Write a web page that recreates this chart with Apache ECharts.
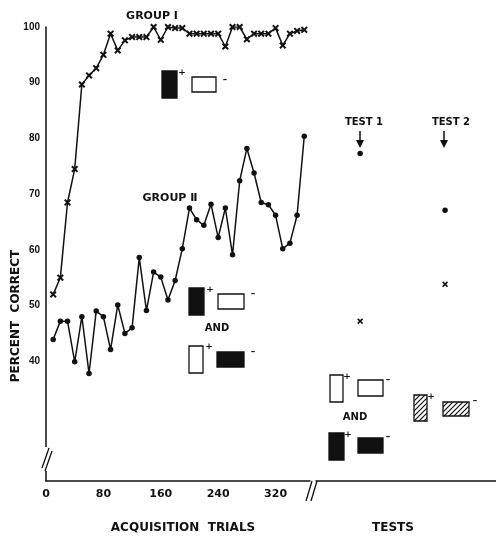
<!DOCTYPE html>
<html><head><meta charset="utf-8">
<script src="https://cdn.jsdelivr.net/npm/echarts@6/dist/echarts.min.js"></script>
<style>html,body{margin:0;padding:0;background:#fff}#c{width:496px;height:539px}</style>
</head><body><div id="c"></div>
<script>
// ---- data ----
const trials = [10,20,30,40,50,60,70,80,90,100,110,120,130,140,150,160,170,180,190,200,210,220,230,240,250,260,270,280,290,300,310,320,330,340,350,360];
const groupI = [52,55,68.5,74.5,89.7,91.3,92.6,95,98.8,95.8,97.6,98.2,98.2,98.2,100,97.7,100,99.8,99.8,98.8,98.8,98.8,98.8,98.8,96.5,100,100,97.8,98.8,98.8,98.8,99.8,96.7,98.8,99.3,99.5];
const groupII = [43.9,47.2,47.2,39.9,48.0,37.8,49.0,48.0,42.1,50.1,45.0,46.0,58.6,49.1,56.0,55.1,51.0,54.5,60.2,67.5,65.4,64.4,68.2,62.2,67.5,59.1,72.4,78.2,73.8,68.5,68.1,66.2,60.2,61.2,66.2,80.4];
const testNumbers = [1, 2];
const testGroupI = [47.2, 53.8];
const testGroupII = [77.3, 67.1];
const xTickLabels = [0, 80, 160, 240, 320];
const yTickLabels = [40, 50, 60, 70, 80, 90, 100];

const FONT = 'DejaVu Sans';
const INK = '#111';
const xSym = 'path://M2,0 L5,3 L8,0 L10,2 L7,5 L10,8 L8,10 L5,7 L2,10 L0,8 L3,5 L0,2 Z';

// hatch pattern
const hc = document.createElement('canvas');
hc.width = 5; hc.height = 5;
const hx = hc.getContext('2d');
hx.fillStyle = '#fff'; hx.fillRect(0,0,5,5);
hx.strokeStyle = INK; hx.lineWidth = 1.2;
hx.beginPath(); hx.moveTo(-1,6); hx.lineTo(6,-1); hx.moveTo(-1,1); hx.lineTo(1,-1); hx.moveTo(4,6); hx.lineTo(6,4); hx.stroke();
const hatch = {image: hc, repeat: 'repeat'};

function box(x, y, w, h, kind) {
  return {type:'rect', shape:{x:x, y:y, width:w, height:h}, z:100,
    style:{fill: kind === 'black' ? INK : (kind === 'hatch' ? hatch : '#fff'), stroke: INK, lineWidth: 1.3}};
}
function txt(x, y, s, size, extra) {
  return Object.assign({type:'text', x:x, y:y, z:100,
    style:{text:s, font:'bold ' + size + 'px "' + FONT + '"', fill: INK, align:'center', verticalAlign:'middle'}}, extra || {});
}
function ln(x1, y1, x2, y2, w) {
  return {type:'line', z:110, shape:{x1:x1, y1:y1, x2:x2, y2:y2}, style:{stroke: INK, lineWidth: w || 1.3}};
}

const chart = echarts.init(document.getElementById('c'));
const yCommon = {type:'value', min:18.5, max:100, splitLine:{show:false}, axisTick:{show:false}};
chart.setOption({
  backgroundColor:'#fff',
  animation:false,
  grid:[
    {left:46, top:27, width:264, height:463},
    {left:316, top:27, width:180, height:463}
  ],
  xAxis:[
    {gridIndex:0, type:'value', min:0, max:368, splitLine:{show:false},
     axisLine:{lineStyle:{color:INK, width:1.5}}, axisTick:{show:false},
     axisLabel:{customValues:xTickLabels, color:INK, fontFamily:FONT, fontWeight:'bold', fontSize:11, margin:8},
     name:'ACQUISITION  TRIALS', nameLocation:'middle', nameGap:41,
     nameTextStyle:{color:INK, fontFamily:FONT, fontWeight:'bold', fontSize:12, padding:[0,0,0,10]}},
    {gridIndex:1, type:'value', min:0.48, max:2.6, splitLine:{show:false},
     axisLine:{lineStyle:{color:INK, width:1.5}}, axisTick:{show:false}, axisLabel:{show:false},
     name:'TESTS', nameLocation:'middle', nameGap:41,
     nameTextStyle:{color:INK, fontFamily:FONT, fontWeight:'bold', fontSize:12, padding:[0,26,0,0]}}
  ],
  yAxis:[
    Object.assign({gridIndex:0, axisLine:{show:true, lineStyle:{color:INK, width:1.5}},
      axisLabel:{customValues:yTickLabels, color:INK, fontFamily:'Liberation Sans', fontWeight:'bold', fontSize:10, margin:6}}, yCommon),
    Object.assign({gridIndex:1, axisLine:{show:false}, axisLabel:{show:false}}, yCommon)
  ],
  series:[
    {name:'Group I', type:'line', xAxisIndex:0, yAxisIndex:0,
     data: trials.map((t,i)=>[t, groupI[i]]),
     symbol:xSym, symbolSize:7, lineStyle:{color:INK, width:1.5}, itemStyle:{color:INK, opacity:1}},
    {name:'Group II', type:'line', xAxisIndex:0, yAxisIndex:0,
     data: trials.map((t,i)=>[t, groupII[i]]),
     symbol:'circle', symbolSize:5.5, lineStyle:{color:INK, width:1.5}, itemStyle:{color:INK, opacity:1}},
    {name:'Group I test', type:'scatter', xAxisIndex:1, yAxisIndex:1,
     data: testNumbers.map((t,i)=>[t, testGroupI[i]]), symbol:xSym, symbolSize:6, itemStyle:{color:INK, opacity:1}},
    {name:'Group II test', type:'scatter', xAxisIndex:1, yAxisIndex:1,
     data: testNumbers.map((t,i)=>[t, testGroupII[i]]), symbol:'circle', symbolSize:5.5, itemStyle:{color:INK, opacity:1}}
  ],
  graphic:[
    // axis breaks
    {type:'rect', z:105, shape:{x:42, y:447, width:8, height:24}, style:{fill:'#fff'}},
    ln(42, 468, 49, 448), ln(45, 471, 52, 451),
    {type:'rect', z:105, shape:{x:309, y:486, width:8, height:8}, style:{fill:'#fff'}},
    ln(306, 501, 312, 481), ln(311, 501, 317, 481),
    // y-axis title
    txt(16, 316, 'PERCENT  CORRECT', 12, {rotation: Math.PI/2}),
    // group labels
    txt(152, 16, 'GROUP Ⅰ', 11),
    txt(170, 198, 'GROUP Ⅱ', 11),
    // group I stimuli
    box(162, 71, 15, 27, 'black'), txt(182, 73, '+', 9), box(192, 77, 24, 15, 'white'), txt(225, 80, '–', 9),
    // group II stimuli
    box(189, 288, 15, 27, 'black'), txt(210, 290, '+', 9), box(218, 294, 26, 15, 'white'), txt(253, 294, '–', 9),
    txt(217, 328, 'AND', 10),
    box(189, 346, 14, 27, 'white'), txt(209, 347, '+', 9), box(217, 352, 27, 15, 'black'), txt(253, 352, '–', 9),
    // test 1 stimuli
    box(330, 375, 13, 27, 'white'), txt(347, 377, '+', 9), box(358, 380, 25, 16, 'white'), txt(388, 380, '–', 9),
    txt(355, 417, 'AND', 10),
    box(329, 433, 15, 27, 'black'), txt(348, 435, '+', 9), box(358, 438, 25, 15, 'black'), txt(388, 437, '–', 9),
    // test 2 stimuli
    box(414, 395, 13, 26, 'hatch'), txt(431, 397, '+', 9), box(443, 402, 26, 14, 'hatch'), txt(475, 401, '–', 9),
    // test labels and arrows
    txt(364, 122, 'TEST 1', 10), ln(360, 131, 360, 143, 1.5),
    {type:'polygon', z:110, shape:{points:[[356,140],[364,140],[360,148]]}, style:{fill:INK}},
    txt(451, 122, 'TEST 2', 10), ln(444, 131, 444, 143, 1.5),
    {type:'polygon', z:110, shape:{points:[[440,140],[448,140],[444,148]]}, style:{fill:INK}}
  ]
});
</script>
</body></html>
